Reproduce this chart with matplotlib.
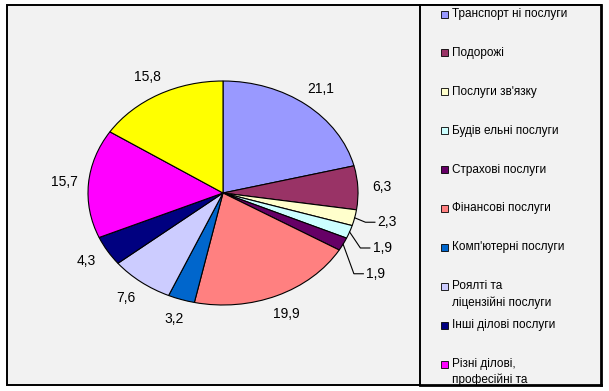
import numpy as np
import matplotlib.pyplot as plt
from matplotlib.patches import Rectangle

# structure of service exports, %
categories = ["Транспорт ні послуги", "Подорожі", "Послуги зв'язку", "Будів ельні послуги",
              "Страхові послуги", "Фінансові послуги", "Комп'ютерні послуги",
              "Роялті та\nліцензійні послуги", "Інші ділові послуги",
              "Різні ділові,\nпрофесійні та", "Державні послуги"]
values = [21.1, 6.3, 2.3, 1.9, 1.9, 19.9, 3.2, 7.6, 4.3, 15.7, 15.8]
colors = ["#9999FF", "#993366", "#FFFFCC", "#CCFFFF", "#660066", "#FF8080",
          "#0066CC", "#CCCCFF", "#000080", "#FF00FF", "#FFFF00"]
n_legend = 10  # the legend is cut off after the 10th entry

W, H = 609, 391
fig = plt.figure(figsize=(W / 100, H / 100), dpi=100)
fig.patch.set_facecolor("white")
plt.rcParams["font.family"] = ["Liberation Sans", "DejaVu Sans"]

# chart area frame
fig.add_artist(Rectangle((7 / W, (H - 385) / H), 594 / W, 380 / H, transform=fig.transFigure,
                         facecolor="#F2F2F2", edgecolor="black", lw=1.4, zorder=0))

# pie, stretched into an ellipse
ax = fig.add_axes([88 / W, (H - 305) / H, 270 / W, 224 / H])
wedges, _ = ax.pie(values, colors=colors, startangle=90, counterclock=False,
                   wedgeprops=dict(edgecolor="black", linewidth=0.8))
ax.set_aspect("auto")
ax.set_xlim(-1, 1)
ax.set_ylim(-1, 1)
ax.axis("off")

prev_y = None
for w, v in zip(wedges, values):
    mid = np.deg2rad((w.theta1 + w.theta2) / 2)
    ex, ey = np.cos(mid), np.sin(mid)
    lab = f"{v:.1f}".replace(".", ",")
    if v < 3 and ex > 0:
        # small slices on the right: leader lines, labels pushed down
        ly = 1.18 * ey
        if prev_y is not None:
            ly = min(ly, prev_y - 0.23)
        prev_y = ly
        elbow = ex + 0.08
        ax.plot([ex, elbow, elbow + 0.07], [ey, ly, ly], color="black", lw=0.8, clip_on=False)
        ax.text(elbow + 0.09, ly, lab, ha="left", va="center", fontsize=10, clip_on=False)
    else:
        ax.text(1.18 * ex, 1.18 * ey, lab, ha="center", va="center", fontsize=10, clip_on=False)

# legend box
lax = fig.add_axes([420 / W, (H - 385) / H, 181 / W, 380 / H])
lax.set_facecolor("#F2F2F2")
lax.set_xlim(0, 181)
lax.set_ylim(380, 0)
lax.set_xticks([])
lax.set_yticks([])
for s in lax.spines.values():
    s.set_linewidth(1.4)
lax.spines["right"].set_linewidth(2)
lax.spines["bottom"].set_linewidth(2)

pitch = 38.9
for i, (name, c) in enumerate(zip(categories[:n_legend], colors[:n_legend])):
    yc = 9 + i * pitch
    lax.add_patch(Rectangle((21, yc - 3.5), 7, 7, facecolor=c, edgecolor="black", lw=0.6))
    for j, line in enumerate(name.split("\n")):
        lax.text(32, yc + j * 16, line, ha="left", va="center", fontsize=8.5)

fig.savefig("out.png", dpi=100)
